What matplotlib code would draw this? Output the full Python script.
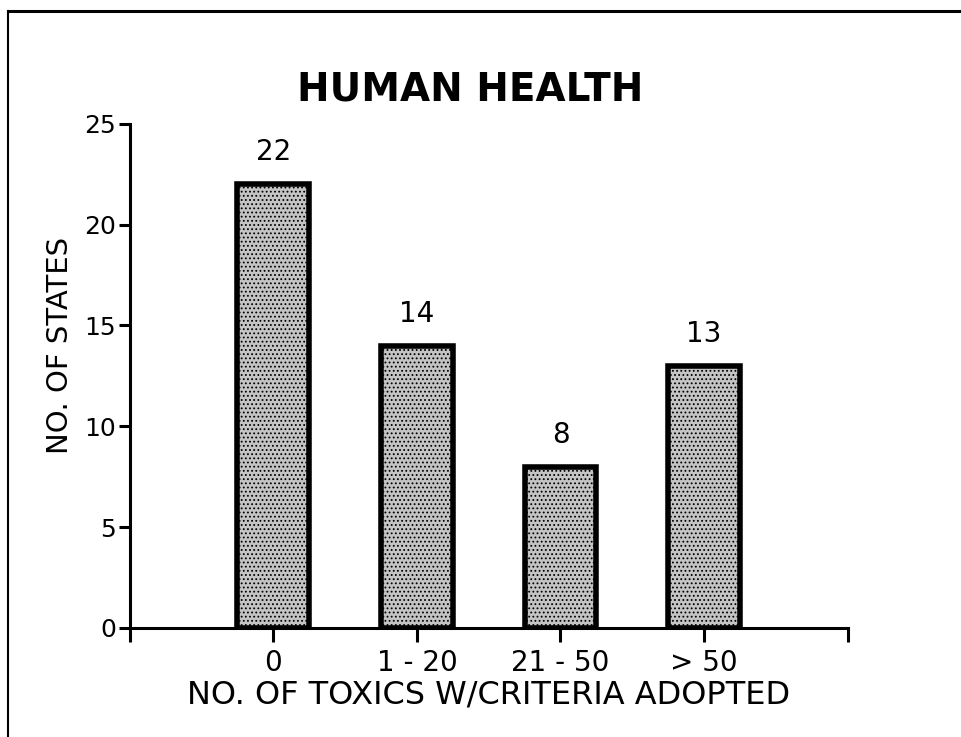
import matplotlib
matplotlib.use("Agg")
import matplotlib.pyplot as plt
from matplotlib.lines import Line2D

# data
categories = ["0", "1 - 20", "21 - 50", "> 50"]
states = [22, 14, 8, 13]
yticks = [0, 5, 10, 15, 20, 25]

plt.rcParams['font.family'] = ['DejaVu Sans']
plt.rcParams['hatch.linewidth'] = 0.8

fig = plt.figure(figsize=(9.61, 7.37), dpi=100)
ax = fig.add_axes([0.135, 0.148, 0.747, 0.684])

pos = list(range(len(categories)))
ax.bar(pos, states, width=0.5, facecolor='#c4c4c4', edgecolor='black',
       linewidth=4, hatch='....', zorder=2)

for x, v in zip(pos, states):
    ax.annotate(str(v), (x, v), xytext=(0, 23), textcoords='offset points',
                ha='center', va='center', fontsize=20)

ax.set_xlim(-1, 4)
ax.set_ylim(0, 25)
ax.set_xticks([-1] + pos + [4])
ax.set_xticklabels([""] + categories + [""], fontsize=20)
ax.set_yticks(yticks)
ax.set_yticklabels([str(t) for t in yticks], fontsize=18)
ax.tick_params(axis='x', direction='out', length=10, width=2.2, pad=5)
ax.tick_params(axis='y', direction='out', length=8, width=2.2, pad=2)

for s in ['top', 'right']:
    ax.spines[s].set_visible(False)
for s in ['left', 'bottom']:
    ax.spines[s].set_linewidth(2.2)

ax.set_xlabel("NO. OF TOXICS W/CRITERIA ADOPTED", fontsize=23, labelpad=2)
ax.set_ylabel("NO. OF STATES", fontsize=21)
ax.yaxis.set_label_coords(-0.078, 0.56)

fig.text(0.489, 0.878, "HUMAN HEALTH", ha='center', va='center',
         fontsize=28, fontweight='bold')

# page frame (top and left only)
fig.add_artist(Line2D([0.008, 1.0], [0.985, 0.985], color='black', linewidth=2.2))
fig.add_artist(Line2D([0.008, 0.008], [0.0, 0.985], color='black', linewidth=1.5))

fig.savefig("out.png", dpi=100)
